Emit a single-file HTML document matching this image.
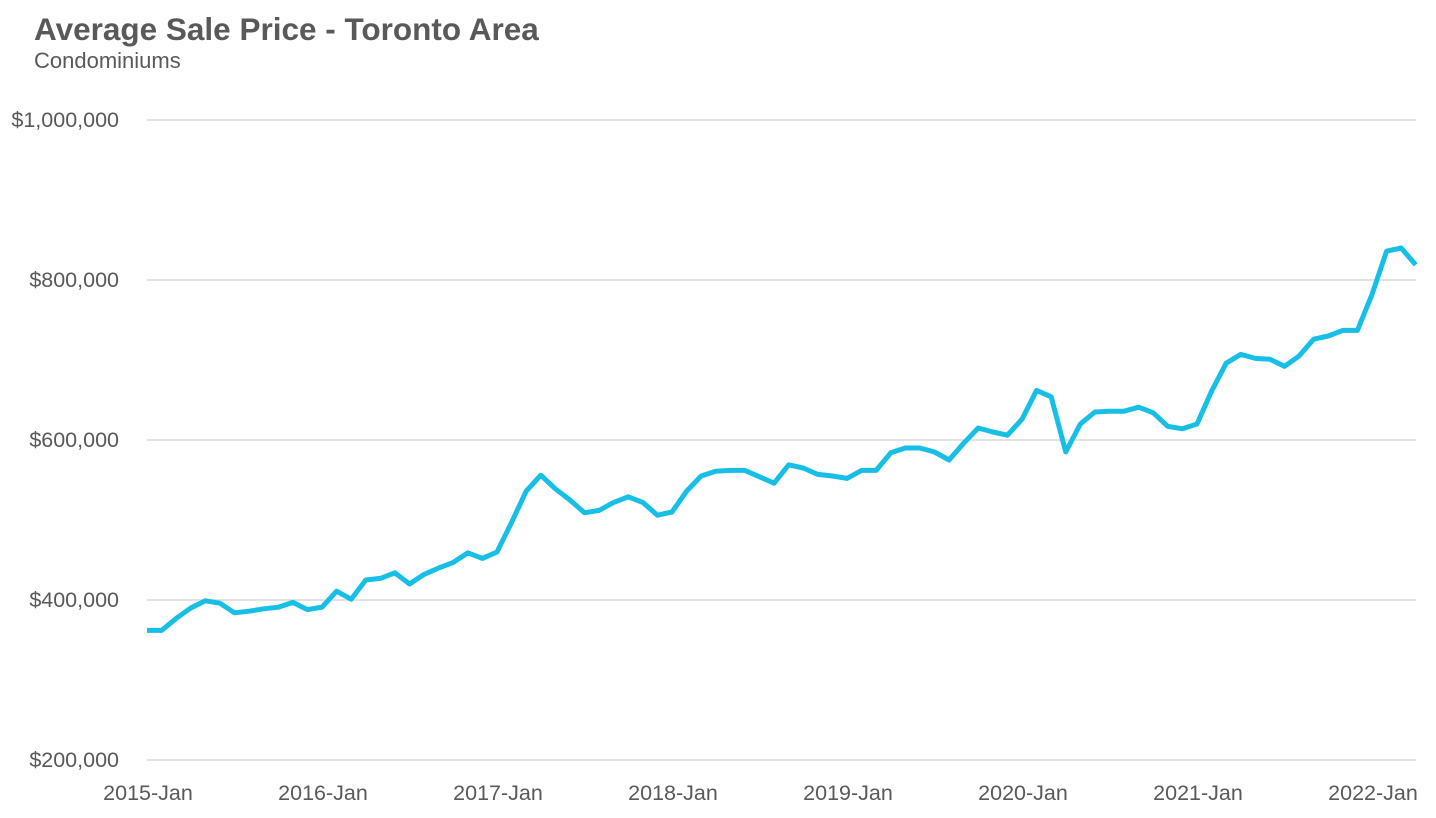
<!DOCTYPE html>
<html><head><meta charset="utf-8"><style>
html,body{margin:0;padding:0;background:#fff;}
svg{display:block;font-family:"Liberation Sans",sans-serif;}
</style></head><body>
<svg width="1436" height="818">
<text x="34" y="40" font-size="31.5" font-weight="bold" fill="#595959">Average Sale Price - Toronto Area</text>
<text x="34" y="68" font-size="22" fill="#595959">Condominiums</text>
<g id="grid"></g><g id="yl"></g><g id="xl"></g><g id="ln"></g>
</svg>
<script>
const yTicks=[200000,400000,600000,800000,1000000];
const yTickLabels=["$200,000","$400,000","$600,000","$800,000","$1,000,000"];
const xTickLabels=["2015-Jan","2016-Jan","2017-Jan","2018-Jan","2019-Jan","2020-Jan","2021-Jan","2022-Jan"];
const prices=[362,362,377,390,399,396,384,386,389,391,397,388,
391,411,401,425,427,434,420,432,440,447,459,452,
460,497,536,556,539,525,509,512,522,529,522,506,
510,536,555,561,562,562,554,546,569,565,557,555,
552,562,562,584,590,590,585,575,596,615,610,606,
626,662,654,585,620,635,636,636,641,634,617,614,
620,661,696,707,702,701,692,705,726,730,737,737,
782,836,840,819].map(v=>v*1000);
const NS="http://www.w3.org/2000/svg";
const x0=147,monthW=175/12;
const xs=i=>x0+i*monthW;
const ys=v=>760-(v-200000)*0.0008;
function mk(t,a,p){const e=document.createElementNS(NS,t);for(const k in a)e.setAttribute(k,a[k]);p.appendChild(e);return e;}
const g=document.getElementById('grid'),yl=document.getElementById('yl'),xl=document.getElementById('xl'),ln=document.getElementById('ln');
yTicks.forEach((v,i)=>{
 const l=mk('line',{x1:147,x2:1416,y1:ys(v),y2:ys(v),stroke:'#d9d9d9','stroke-width':1.5},g);
 
 
 const t=mk('text',{x:119,y:ys(v)+7,'text-anchor':'end','font-size':21.5,fill:'#595959'},yl);
 t.textContent=yTickLabels[i];
 
 
});
xTickLabels.forEach((s,i)=>{
 const t=mk('text',{x:xs(i*12)+1,y:800,'text-anchor':'middle','font-size':21.5,fill:'#595959'},xl);
 t.textContent=s;
 
 
});
const p=mk('polyline',{points:prices.map((v,i)=>xs(i)+','+ys(v)).join(' '),fill:'none',stroke:'#17BFE6','stroke-width':5,'stroke-linejoin':'round'},ln);


</script>
</body></html>
